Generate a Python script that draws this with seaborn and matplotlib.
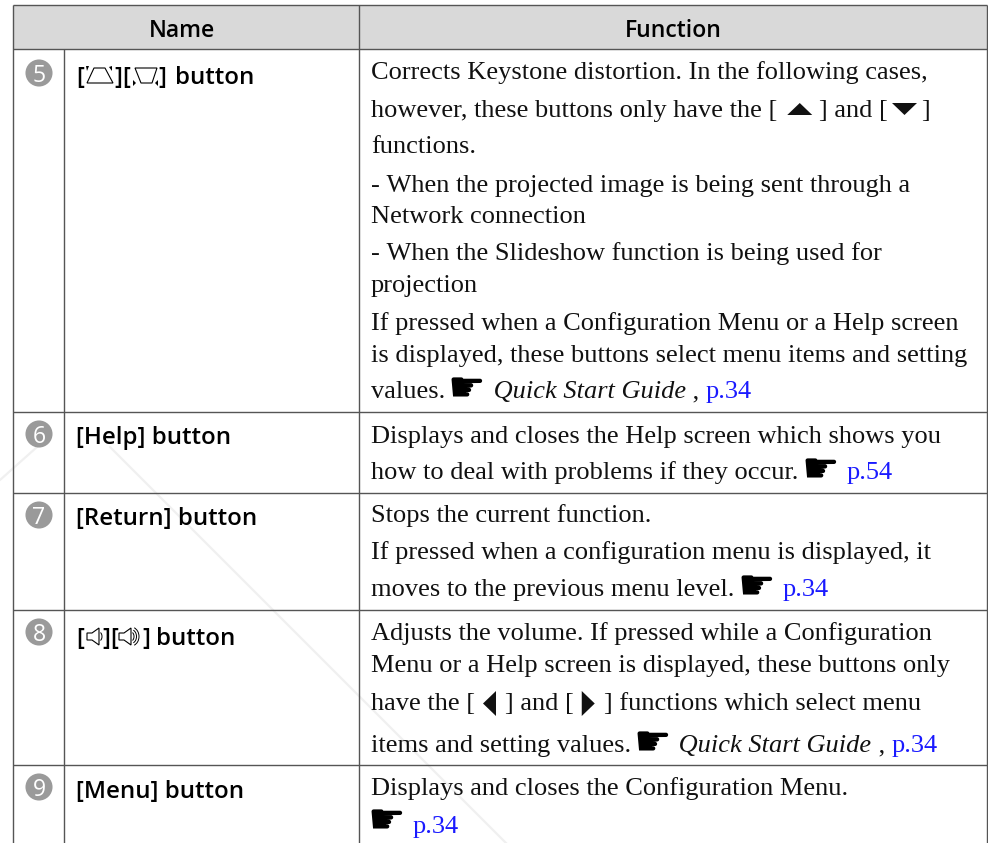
import matplotlib
matplotlib.use("Agg")
import matplotlib.pyplot as plt
from matplotlib.patches import Rectangle, Polygon, Arc
import pandas as pd
import seaborn as sns

sns.set_theme(style="white")

SERIF = "Liberation Serif"
SANS = "Open Sans"
SYM = "DejaVu Sans"
BLUE = "#1a1aff"
INK = "#111111"

# ---- table content -------------------------------------------------------
headers = ["Name", "Function"]
row_numbers = ["5", "6", "7", "8", "9"]
name_texts = [
    [("[", 76), ("]", 114), ("[", 122), ("]", 158), ("button", 175)],
    [("[Help] button", 76)],
    [("[Return] button", 76)],
    [("[", 76), ("]", 102), ("[", 110), ("]", 142), ("button", 156)],
    [("[Menu] button", 76)],
]
hand = ("\u261b", "hand")
functions = [
    [
        [("Corrects Keystone distortion. In the following cases,", "n")],
        [("however, these buttons only have the [", "n"), ("up", "tri"), ("] and [", "n"), ("down", "tri"), ("]", "n")],
        [("functions.", "n")],
        [("- When the projected image is being sent through a", "n")],
        [("Network connection", "n")],
        [("- When the Slideshow function is being used for", "n")],
        [("projection", "n")],
        [("If pressed when a Configuration Menu or a Help screen", "n")],
        [("is displayed, these buttons select menu items and setting", "n")],
        [("values. ", "n"), hand, (" Quick Start Guide", "i"), (" , ", "n"), ("p.34", "link")],
    ],
    [
        [("Displays and closes the Help screen which shows you", "n")],
        [("how to deal with problems if they occur. ", "n"), hand, (" ", "n"), ("p.54", "link")],
    ],
    [
        [("Stops the current function.", "n")],
        [("If pressed when a configuration menu is displayed, it", "n")],
        [("moves to the previous menu level. ", "n"), hand, (" ", "n"), ("p.34", "link")],
    ],
    [
        [("Adjusts the volume. If pressed while a Configuration", "n")],
        [("Menu or a Help screen is displayed, these buttons only", "n")],
        [("have the [", "n"), ("left", "tri"), ("] and [", "n"), ("right", "tri"), ("] functions which select menu", "n")],
        [("items and setting values. ", "n"), hand, (" Quick Start Guide", "i"), (" , ", "n"), ("p.34", "link")],
    ],
    [
        [("Displays and closes the Configuration Menu.", "n")],
        [hand, (" ", "n"), ("p.34", "link")],
    ],
]
baselines = [
    [79, 117, 153, 192, 223, 260, 292, 330, 362, 398],
    [443, 479],
    [522, 559, 596],
    [640, 672, 710, 752],
    [795, 833],
]
row_tops = [49, 412, 493, 610, 765]
table_bottom = 843
col_x = [13, 64, 359, 987]
header_top = 5
marker_y = [73, 434, 515, 632, 787]
name_base = [84, 444, 525, 645, 798]

# ---- figure --------------------------------------------------------------
fig = plt.figure(figsize=(9.88, 8.43), dpi=100, facecolor="white")
ax = fig.add_axes([0, 0, 1, 1])
ax.set_xlim(0, 988)
ax.set_ylim(843, 0)
ax.axis("off")

PX = 0.72
FS = 26.4 * PX
styles = {
    "n": dict(family=SERIF, size=FS, color=INK),
    "i": dict(family=SERIF, size=FS, color=INK, style="italic"),
    "link": dict(family=SERIF, size=FS, color=BLUE),
    "hand": dict(family=SYM, size=42 * PX, color="black"),
}
# triangle shapes relative to (pen x, baseline), with the pen advance
TRI = {
    "up": ([(10, -2), (35, -2), (22.5, -14)], 42),
    "down": ([(4, -14), (29, -14), (16.5, -2)], 33),
    "left": ([(21, -19), (21, 6), (8, -6.5)], 30),
    "right": ([(8, -19), (8, 6), (21, -6.5)], 30),
}

# faint watermark streaks behind the table
for xs, ys in (([110, 510], [447, 847]), ([0, 37], [480, 447])):
    ax.plot(xs, ys, color="#f0f0f0", lw=1.6, zorder=0.5)

# header band and rules
ax.add_patch(Rectangle((col_x[0], header_top), col_x[3] - col_x[0], row_tops[0] - header_top,
                       facecolor="#d9d9d9", edgecolor="none", zorder=0))
LINE = dict(color="#555555", lw=1.0, zorder=1, solid_capstyle="butt")
ax.plot([col_x[0], col_x[3]], [header_top, header_top], **LINE)
for y in row_tops:
    ax.plot([col_x[0], col_x[3]], [y, y], **LINE)
for x in (col_x[0], col_x[2], col_x[3]):
    ax.plot([x, x], [header_top, table_bottom], **LINE)
ax.plot([col_x[1], col_x[1]], [row_tops[0], table_bottom], **LINE)

# header text
hdr = dict(family=SANS, size=23 * PX, weight=600, color="black", ha="center", va="baseline")
ax.text(182, 37, headers[0], **hdr)
ax.text(673, 37, headers[1], **hdr)

# numbered markers
marks = pd.DataFrame({"x": [39] * len(marker_y), "y": marker_y})
sns.scatterplot(data=marks, x="x", y="y", s=380, color="#9a9a9a", edgecolor="none", ax=ax, legend=False, zorder=2)
ax.set_xlabel(""); ax.set_ylabel("")
for y, num in zip(marker_y, row_numbers):
    ax.text(39, y, num, family=SANS, size=23 * PX, color="white",
            ha="center", va="center_baseline", zorder=3)

# name column
for y, parts in zip(name_base, name_texts):
    for txt, x in parts:
        ax.text(x, y, txt, family=SANS, size=24 * PX, weight=600, color="black", ha="left", va="baseline")

# function column, flowed run by run
renderer = fig.canvas.get_renderer()
for lines, ys in zip(functions, baselines):
    for runs, y in zip(lines, ys):
        x = 371
        for txt, st in runs:
            if st == "tri":
                pts, adv = TRI[txt]
                ax.add_patch(Polygon([[x + px, y + py] for px, py in pts], facecolor="#111111", edgecolor="none"))
                x += adv
                continue
            is_hand = st == "hand"
            # the last hand sits at the picture's lower edge, so it stays on the baseline
            drop = (3 if y < 800 else 0) if is_hand else 0
            t = ax.text(x - (4 if is_hand else 0), y + drop, txt.replace(" ", "\u00a0"),
                        ha="left", va="baseline", **styles[st])
            x += t.get_window_extent(renderer).width - (3 if is_hand else 0)

# keystone icons on the first row
icon = dict(fill=False, edgecolor="black", lw=0.8, zorder=3)
ax.add_patch(Polygon([[87, 83], [113, 83], [105, 68], [94, 68]], **icon))
ax.add_patch(Polygon([[135, 68], [157, 68], [152, 83], [141, 83]], **icon))
tick = dict(facecolor="black", edgecolor="none", zorder=3)
for tri in ([[86, 66], [89, 66], [87, 71]], [[112, 66], [109, 67], [112, 71]],
            [[133, 80], [136, 83], [133, 86]], [[158, 80], [155, 83], [158, 86]]):
    ax.add_patch(Polygon(tri, **tick))

# speaker icons on the fourth row
for x0, waves in ((87, 1), (119, 3)):
    ax.add_patch(Polygon([[x0, 633], [x0 + 5, 633], [x0 + 12, 628], [x0 + 12, 645], [x0 + 5, 640], [x0, 640]], **icon))
    for k in range(waves):
        ax.add_patch(Arc((x0 + 12, 636.5), 6 + 5 * k, 9 + 5 * k, theta1=-70, theta2=70, color="black", lw=0.7))

fig.savefig("out.png", dpi=100)
